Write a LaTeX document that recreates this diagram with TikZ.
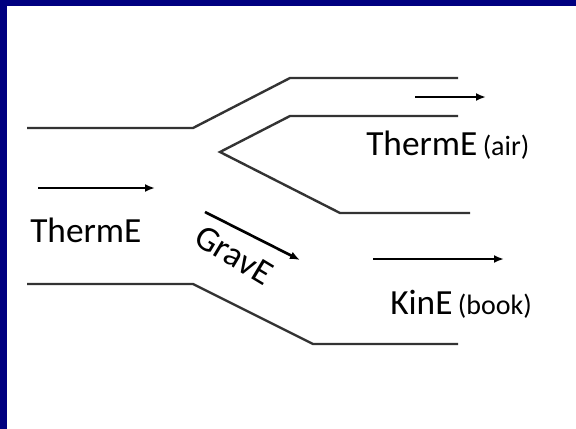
\documentclass[tikz,border=0pt]{standalone}
\usepackage{fontspec}
\setmainfont{Carlito}
\usetikzlibrary{arrows.meta}
\definecolor{slideblue}{RGB}{0,0,128}
\newcommand{\bigtxt}{\fontsize{26.5}{31}\selectfont}
\newcommand{\smalltxt}{\fontsize{21}{24}\selectfont}

\begin{document}
\begin{tikzpicture}[x=0.75pt,y=-0.75pt,>={Latex[length=7.5pt,width=6pt]},
  wall/.style={line width=1.8pt,black!80,line join=miter},
  flow/.style={->,line width=2pt},
  lbl/.style={anchor=base west,inner sep=0pt,font=\bigtxt}]
  % slide frame
  \fill[slideblue] (0,0) rectangle (576,429);
  \fill[white] (7,6) rectangle (576,429);
  \useasboundingbox (0,0) rectangle (576,429);
  % channel walls
  \draw[wall] (27,128) -- (193,128) -- (290,78) -- (458,78);
  \draw[wall] (458,116) -- (290,116) -- (220,152) -- (340,213) -- (470,213);
  \draw[wall] (27,284) -- (193,284) -- (313,344) -- (458,344);
  % arrow ends
  \coordinate (in1) at (38,188);    \coordinate (in2) at (155,188);
  \coordinate (air1) at (415,97);   \coordinate (air2) at (486,97);
  \coordinate (grav1) at (205,212); \coordinate (grav2) at (300,260);
  \coordinate (kin1) at (373,259);  \coordinate (kin2) at (504,259);
  \foreach \a/\b in {in1/in2,air1/air2,grav1/grav2,kin1/kin2}
    \draw[flow] (\a) -- (\b);
  % labels
  \node[lbl] (therm) at (30,242) {ThermE};
  \node[lbl] (thermair) at (366,155) {ThermE\hspace{4pt}{\smalltxt(air)}};
  \node[lbl] (kin) at (390,314) {KinE\hspace{4pt}{\smalltxt(book)}};
  \node[inner sep=0pt,font=\bigtxt,rotate=-31] (grav) at (234,255) {GravE};
\end{tikzpicture}
\end{document}
